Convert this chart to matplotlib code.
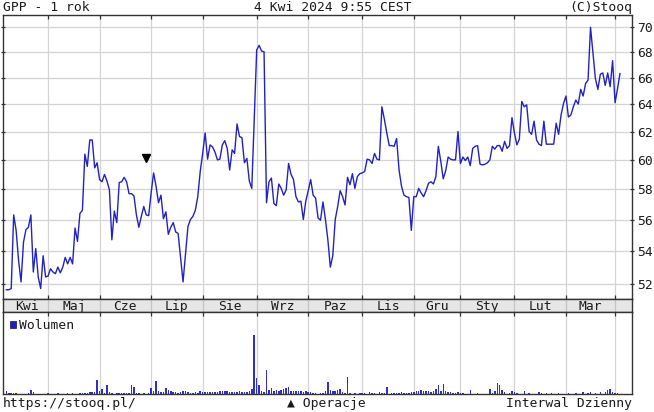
import numpy as np
import pandas as pd
import matplotlib
matplotlib.use("Agg")
import matplotlib.pyplot as plt
from matplotlib.ticker import FixedLocator, FuncFormatter, NullLocator
from matplotlib.patches import Rectangle

# ---------------- data ----------------
holidays = ['2023-04-07', '2023-04-10', '2023-05-01', '2023-05-03', '2023-06-08',
            '2023-08-15', '2023-11-01', '2023-12-25', '2023-12-26', '2024-01-01',
            '2024-03-29', '2024-04-01']
start_date = '2023-04-04'
end_date = '2024-04-04'

close = [
    # Apr 2023
    51.63, 51.63, 51.7, 56.3, 55.3, 53.4, 52.1, 54.55, 55.35, 55.5,
    56.3, 52.7, 54.15, 52.4, 51.7, 53.7, 52.4,
    # May
    52.45, 52.9, 52.7, 52.6, 53.0, 52.65, 53.0, 53.6, 53.2, 53.6,
    53.2, 55.45, 54.6, 56.4, 56.6, 60.4, 59.55, 61.4, 61.4, 59.45, 59.8,
    # Jun
    58.65, 58.5, 59.0, 58.55, 57.95, 54.7, 56.55, 55.8, 58.45, 58.5,
    58.8, 58.5, 57.7, 57.7, 57.55, 56.3, 55.5, 56.2, 56.85, 56.3, 56.25,
    # Jul
    57.75, 59.1, 58.2, 57.1, 57.6, 56.05, 56.5, 55.05, 55.5, 55.8,
    55.2, 55.1, 53.6, 52.1, 53.8, 55.55, 56.0, 56.2, 56.6, 57.5, 59.2,
    # Aug
    60.45, 61.9, 60.05, 61.05, 60.9, 60.55, 60.0, 60.05, 61.05, 61.35,
    60.8, 59.3, 60.7, 60.45, 62.55, 61.65, 61.55, 59.8, 60.1, 58.55, 58.05, 63.0,
    # Sep
    68.13, 68.5, 68.05, 68.0, 57.1, 58.5, 58.75, 57.05, 56.9, 58.35,
    58.05, 57.6, 57.95, 59.75, 59.0, 58.65, 57.5, 57.15, 57.2, 56.0, 57.2,
    # Oct
    57.9, 58.65, 57.6, 57.4, 56.1, 55.95, 57.15, 56.0, 54.7, 53.0,
    53.7, 56.0, 56.85, 57.9, 57.5, 56.95, 58.8, 58.3, 59.05, 58.05, 58.85, 59.05,
    # Nov
    59.1, 59.2, 60.05, 60.0, 59.75, 60.45, 60.05, 60.0, 63.8, 62.9,
    61.9, 61.0, 61.0, 60.95, 61.5, 59.3, 58.2, 57.6, 57.5, 57.45, 55.3,
    # Dec
    57.5, 57.5, 58.05, 57.75, 57.5, 57.9, 58.4, 58.5, 58.35, 58.85,
    60.95, 59.9, 58.7, 59.25, 60.2, 60.05, 60.0, 60.0, 62.0,
    # Jan 2024
    59.75, 60.2, 59.95, 60.2, 59.6, 60.8, 60.95, 61.0, 59.7, 59.65,
    59.7, 59.8, 60.0, 60.95, 60.75, 61.0, 61.0, 60.6, 61.3, 60.8, 61.0, 63.0,
    # Feb
    61.9, 61.05, 61.45, 64.2, 63.8, 63.95, 62.0, 61.8, 62.75, 61.4,
    61.1, 61.0, 62.75, 61.1, 61.1, 61.1, 61.1, 62.6, 61.8, 63.2, 64.05,
    # Mar
    64.6, 63.05, 63.2, 63.8, 64.3, 64.0, 65.1, 64.6, 65.55, 65.8,
    69.95, 67.85, 65.9, 65.1, 66.25, 66.35, 65.4, 66.35, 65.3, 67.3,
    # Apr
    64.1, 65.15, 66.3,
]

volume = [
    10, 2, 3, 2, 3, 1, 1, 1, 1, 2, 12, 5, 1, 1, 1, 1, 1,
    3, 1, 1, 1, 2, 1, 1, 1, 2, 1, 2, 1, 1, 2, 3, 4, 4, 5, 6, 6, 40,
    8, 14, 3, 25, 5, 2, 1, 3, 2, 3, 4, 2, 3, 27, 20, 4, 2, 1, 2, 1, 4,
    18, 8, 38, 10, 7, 6, 18, 12, 8, 5, 5, 4, 7, 9, 8, 5, 4, 3, 5, 4, 8,
    6, 6, 5, 6, 7, 6, 6, 9, 10, 8, 9, 7, 6, 6, 5, 8, 5, 6, 7, 10, 14, 170,
    45, 25, 8, 6, 70, 12, 16, 10, 12, 10, 12, 14, 18, 20, 10, 8, 9, 9, 8, 7, 10,
    6, 5, 2, 3, 1, 4, 2, 10, 35, 12, 10, 8, 12, 15, 6, 2, 48, 2, 1, 3, 1, 4,
    2, 3, 1, 5, 2, 3, 1, 5, 4, 2, 20, 1, 4, 2, 3, 2, 5, 2, 4, 2, 5,
    6, 8, 10, 12, 9, 10, 8, 7, 10, 14, 25, 10, 30, 8, 6, 5, 4, 2, 5,
    2, 3, 1, 1, 12, 1, 1, 3, 1, 1, 1, 1, 15, 2, 10, 33, 25, 12, 6, 1, 2, 8,
    5, 3, 1, 1, 10, 1, 3, 1, 1, 1, 6, 4, 1, 4, 1, 3, 1, 1, 3, 1, 1,
    1, 4, 1, 1, 3, 1, 1, 5, 1, 4, 5, 1, 4, 1, 5, 1, 6, 12, 15, 5,
    3, 2, 1,
]

month_labels = ['Kwi', 'Maj', 'Cze', 'Lip', 'Sie', 'Wrz', 'Paz', 'Lis',
                'Gru', 'Sty', 'Lut', 'Mar']
price_ticks = [52, 54, 56, 58, 60, 62, 64, 66, 68, 70]
oper_idx = [57]
oper_val = [60.1]

title_left = 'GPP - 1 rok'
title_mid = '4 Kwi 2024 9:55 CEST'
title_right = '(C)Stooq'
foot_left = 'https://stooq.pl/'
foot_mid = '\u25b2 Operacje'
foot_right = 'Interwal Dzienny'
vol_label = 'Wolumen'

# ---------------- calendar ----------------
dates = pd.bdate_range(start_date, end_date, freq='C', holidays=holidays)
n = len(close)
if len(dates) != n:
    dates = dates[:n]
x = np.arange(n)
month_starts = [i for i in range(1, n) if dates[i].month != dates[i - 1].month]

# ---------------- figure ----------------
W, H = 654, 412
plt.rcParams['font.family'] = ['DejaVu Sans Mono', 'DejaVu Sans']
FS = 9.4
TXT = '#1a1a1a'
SPINE = '#333333'
GRID = '#d4d4d4'
BLUE = '#2222c0'

fig = plt.figure(figsize=(W / 100, H / 100), dpi=100)
fig.patch.set_facecolor('white')


def fx(px):
    return px / W


def fy(py):
    return 1 - py / H


L, R = 3, 632
P_TOP, P_BOT = 15, 299
B_BOT = 312
V_BOT = 394
XLIM = (-1.35, 254.9)

ax = fig.add_axes([fx(L), fy(P_BOT), fx(R) - fx(L), fy(P_TOP) - fy(P_BOT)])
band = fig.add_axes([fx(L), fy(B_BOT), fx(R) - fx(L), fy(P_BOT) - fy(B_BOT)])
axv = fig.add_axes([fx(L), fy(V_BOT), fx(R) - fx(L), fy(B_BOT) - fy(V_BOT)])

# price panel
ax.plot(x, close, color=BLUE, lw=1.0, zorder=3)
ax.plot(oper_idx, oper_val, linestyle='none', marker='v', color='black',
        markersize=6, zorder=4)
ax.set_yscale('log')
ax.set_ylim(51.08, 70.95)
ax.set_xlim(*XLIM)
ax.yaxis.set_major_locator(FixedLocator(price_ticks))
ax.yaxis.set_minor_locator(NullLocator())
ax.yaxis.set_major_formatter(FuncFormatter(lambda v, p: f'{v:.0f}'))
ax.set_xticks(month_starts)
ax.xaxis.set_minor_locator(NullLocator())
ax.grid(True, color=GRID, lw=0.9, zorder=0)
ax.tick_params(axis='y', which='major', left=True, right=True, labelleft=False,
               labelright=True, direction='inout', length=3.5, width=0.9,
               color=SPINE, labelsize=FS, labelcolor=TXT, pad=2)
ax.tick_params(axis='x', which='major', top=True, bottom=True, labelbottom=False,
               direction='in', length=3, width=0.9, color=SPINE)
for s in ax.spines.values():
    s.set_color(SPINE)
    s.set_linewidth(1.0)

# month band
band.set_facecolor('#e6e6e6')
band.set_xlim(*XLIM)
band.set_ylim(0, 1)
band.set_xticks([])
band.set_yticks([])
for m in month_starts:
    band.axvline(m, color='#c4c4c4', lw=0.9)
bounds = [0] + month_starts
for k, lab in enumerate(month_labels):
    cx = (bounds[k] + bounds[k + 1]) / 2
    band.text(cx, 0.45, lab, ha='center', va='center', fontsize=FS, color=TXT)
for s in band.spines.values():
    s.set_color(SPINE)
    s.set_linewidth(1.0)

# volume panel
axv.bar(x, volume, width=0.6, color='#3030c8', linewidth=0, zorder=3)
axv.set_xlim(*XLIM)
axv.set_ylim(0, 236)
axv.set_yticks([])
axv.set_xticks(month_starts)
axv.grid(True, axis='x', color=GRID, lw=0.9, zorder=0)
axv.tick_params(axis='x', top=True, bottom=False, labelbottom=False,
                direction='in', length=3, width=0.9, color=SPINE)
for s in axv.spines.values():
    s.set_color(SPINE)
    s.set_linewidth(1.0)
axv.add_patch(Rectangle((0.011, 0.80), 0.0095, 0.085, transform=axv.transAxes,
                        facecolor='#2020c0', edgecolor='#101060', lw=0.5, zorder=5))
axv.text(0.026, 0.84, vol_label, transform=axv.transAxes, ha='left', va='center',
         fontsize=FS, color=TXT, zorder=5)

# header / footer
fig.text(fx(3), fy(7.5), title_left, ha='left', va='center', fontsize=FS, color=TXT)
fig.text(fx(333), fy(7.5), title_mid, ha='center', va='center', fontsize=FS, color=TXT)
fig.text(fx(632), fy(7.5), title_right, ha='right', va='center', fontsize=FS, color=TXT)
fig.text(fx(3), fy(404), foot_left, ha='left', va='center', fontsize=FS, color=TXT)
fig.text(fx(326.5), fy(404), foot_mid, ha='center', va='center', fontsize=FS, color=TXT)
fig.text(fx(632), fy(404), foot_right, ha='right', va='center', fontsize=FS, color=TXT)

fig.savefig('out.png', dpi=100, facecolor='white')
